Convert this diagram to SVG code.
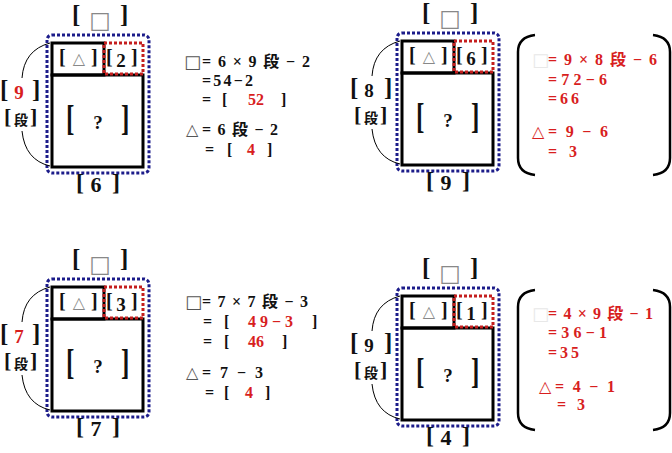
<svg xmlns="http://www.w3.org/2000/svg" width="672" height="453" viewBox="0 0 672 453">
<style>
.t{font-family:"Liberation Serif","Noto Sans CJK JP",serif;font-weight:bold;fill:#111}
.r{fill:#d81e1e}
.sym{font-family:"DejaVu Sans",sans-serif;font-weight:normal;fill:#888}
.dk{fill:#555}
.rs{fill:#d81e1e}
.faint{fill:#e8e8e8}
.kan{font-family:"Noto Sans CJK JP",sans-serif;font-weight:bold;fill:#111}
.blue{fill:none;stroke:#1c1c8a;stroke-width:3;stroke-dasharray:3 2}
.red{fill:none;stroke:#c41e1e;stroke-width:3;stroke-dasharray:3 2}
.box{fill:none;stroke:#000;stroke-width:3}
.arc{fill:none;stroke:#000;stroke-width:1}
.par{fill:none;stroke:#000;stroke-width:2.5}
</style>
<rect width="672" height="453" fill="#fff"/>

<!-- Figure 1 (top-left) -->
<g id="fig1" transform="translate(0,0)">
 <rect class="blue" x="47" y="35" width="102" height="138" rx="5"/>
 <rect class="box" x="52" y="75" width="91" height="92"/>
 <rect class="box" x="52" y="43" width="52" height="32"/>
 <rect class="red" x="104" y="43" width="39" height="31"/>
 <text class="t" x="72" y="23" font-size="25">[</text>
 <text class="sym" x="100" y="28" font-size="23" text-anchor="middle">□</text>
 <text class="t" x="120" y="23" font-size="25">]</text>
 <text class="t" x="59" y="64" font-size="20">[</text>
 <text class="sym" x="79" y="64" font-size="16" text-anchor="middle">△</text>
 <text class="t" x="91" y="64" font-size="20">]</text>
 <text class="t" x="106" y="64" font-size="20">[</text>
 <text class="t" x="121" y="67" font-size="19" text-anchor="middle">2</text>
 <text class="t" x="131" y="64" font-size="20">]</text>
 <text class="t" transform="translate(66,130) scale(0.7,1)" font-size="36">[</text>
 <text class="t" x="98" y="129" font-size="19" text-anchor="middle">?</text>
 <text class="t" transform="translate(121,130) scale(0.7,1)" font-size="36">]</text>
 <text class="t" x="76" y="190" font-size="24">[</text>
 <text class="t" x="96" y="192" font-size="22" text-anchor="middle">6</text>
 <text class="t" x="112" y="190" font-size="24">]</text>
 <text class="t" x="0" y="98" font-size="25">[</text>
 <text class="t r" x="19" y="99" font-size="19" text-anchor="middle">9</text>
 <text class="t" x="32" y="98" font-size="25">]</text>
 <text class="t" x="4" y="124" font-size="22">[</text>
 <text class="kan" x="21" y="125" font-size="14" text-anchor="middle">段</text>
 <text class="t" x="30" y="124" font-size="22">]</text>
 <path class="arc" d="M50,43 Q24,50 22,78"/>
 <path class="arc" d="M22,131 Q25,160 50,166"/>
</g>

<!-- Figure 2 (top-right) -->
<g id="fig2" transform="translate(350,-2)">
 <rect class="blue" x="47" y="35" width="102" height="138" rx="5"/>
 <rect class="box" x="52" y="75" width="91" height="92"/>
 <rect class="box" x="52" y="43" width="52" height="32"/>
 <rect class="red" x="104" y="43" width="39" height="31"/>
 <text class="t" x="72" y="23" font-size="25">[</text>
 <text class="sym" x="100" y="28" font-size="23" text-anchor="middle">□</text>
 <text class="t" x="120" y="23" font-size="25">]</text>
 <text class="t" x="59" y="64" font-size="20">[</text>
 <text class="sym" x="79" y="64" font-size="16" text-anchor="middle">△</text>
 <text class="t" x="91" y="64" font-size="20">]</text>
 <text class="t" x="106" y="64" font-size="20">[</text>
 <text class="t" x="121" y="67" font-size="19" text-anchor="middle">6</text>
 <text class="t" x="131" y="64" font-size="20">]</text>
 <text class="t" transform="translate(66,130) scale(0.7,1)" font-size="36">[</text>
 <text class="t" x="98" y="129" font-size="19" text-anchor="middle">?</text>
 <text class="t" transform="translate(121,130) scale(0.7,1)" font-size="36">]</text>
 <text class="t" x="76" y="190" font-size="24">[</text>
 <text class="t" x="96" y="192" font-size="22" text-anchor="middle">9</text>
 <text class="t" x="112" y="190" font-size="24">]</text>
 <text class="t" x="0" y="98" font-size="25">[</text>
 <text class="t" x="19" y="99" font-size="19" text-anchor="middle">8</text>
 <text class="t" x="34" y="98" font-size="25">]</text>
 <text class="t" x="4" y="124" font-size="22">[</text>
 <text class="kan" x="21" y="125" font-size="14" text-anchor="middle">段</text>
 <text class="t" x="30" y="124" font-size="22">]</text>
 <path class="arc" d="M50,43 Q24,50 22,78"/>
 <path class="arc" d="M22,131 Q25,160 50,166"/>
</g>

<!-- Figure 3 (bottom-left) -->
<g id="fig3" transform="translate(0,244)">
 <rect class="blue" x="47" y="35" width="102" height="138" rx="5"/>
 <rect class="box" x="52" y="75" width="91" height="92"/>
 <rect class="box" x="52" y="43" width="52" height="32"/>
 <rect class="red" x="104" y="43" width="39" height="31"/>
 <text class="t" x="72" y="23" font-size="25">[</text>
 <text class="sym" x="100" y="28" font-size="23" text-anchor="middle">□</text>
 <text class="t" x="120" y="23" font-size="25">]</text>
 <text class="t" x="59" y="64" font-size="20">[</text>
 <text class="sym" x="79" y="64" font-size="16" text-anchor="middle">△</text>
 <text class="t" x="91" y="64" font-size="20">]</text>
 <text class="t" x="106" y="64" font-size="20">[</text>
 <text class="t" x="121" y="67" font-size="19" text-anchor="middle">3</text>
 <text class="t" x="131" y="64" font-size="20">]</text>
 <text class="t" transform="translate(66,130) scale(0.7,1)" font-size="36">[</text>
 <text class="t" x="98" y="129" font-size="19" text-anchor="middle">?</text>
 <text class="t" transform="translate(121,130) scale(0.7,1)" font-size="36">]</text>
 <text class="t" x="76" y="190" font-size="24">[</text>
 <text class="t" x="96" y="192" font-size="22" text-anchor="middle">7</text>
 <text class="t" x="112" y="190" font-size="24">]</text>
 <text class="t" x="0" y="98" font-size="25">[</text>
 <text class="t r" x="19" y="99" font-size="19" text-anchor="middle">7</text>
 <text class="t" x="32" y="98" font-size="25">]</text>
 <text class="t" x="4" y="124" font-size="22">[</text>
 <text class="kan" x="21" y="125" font-size="14" text-anchor="middle">段</text>
 <text class="t" x="30" y="124" font-size="22">]</text>
 <path class="arc" d="M50,43 Q24,50 22,78"/>
 <path class="arc" d="M22,131 Q25,160 50,166"/>
</g>

<!-- Figure 4 (bottom-right) -->
<g id="fig4" transform="translate(350,253)">
 <rect class="blue" x="47" y="35" width="102" height="138" rx="5"/>
 <rect class="box" x="52" y="75" width="91" height="92"/>
 <rect class="box" x="52" y="43" width="52" height="32"/>
 <rect class="red" x="104" y="43" width="39" height="31"/>
 <text class="t" x="72" y="23" font-size="25">[</text>
 <text class="sym" x="100" y="28" font-size="23" text-anchor="middle">□</text>
 <text class="t" x="120" y="23" font-size="25">]</text>
 <text class="t" x="59" y="64" font-size="20">[</text>
 <text class="sym" x="79" y="64" font-size="16" text-anchor="middle">△</text>
 <text class="t" x="91" y="64" font-size="20">]</text>
 <text class="t" x="106" y="64" font-size="20">[</text>
 <text class="t" x="121" y="67" font-size="19" text-anchor="middle">1</text>
 <text class="t" x="131" y="64" font-size="20">]</text>
 <text class="t" transform="translate(66,130) scale(0.7,1)" font-size="36">[</text>
 <text class="t" x="98" y="129" font-size="19" text-anchor="middle">?</text>
 <text class="t" transform="translate(121,130) scale(0.7,1)" font-size="36">]</text>
 <text class="t" x="76" y="190" font-size="24">[</text>
 <text class="t" x="96" y="192" font-size="22" text-anchor="middle">4</text>
 <text class="t" x="112" y="190" font-size="24">]</text>
 <text class="t" x="0" y="98" font-size="25">[</text>
 <text class="t" x="19" y="99" font-size="19" text-anchor="middle">9</text>
 <text class="t" x="34" y="98" font-size="25">]</text>
 <text class="t" x="4" y="124" font-size="22">[</text>
 <text class="kan" x="21" y="125" font-size="14" text-anchor="middle">段</text>
 <text class="t" x="30" y="124" font-size="22">]</text>
 <path class="arc" d="M50,43 Q24,50 22,78"/>
 <path class="arc" d="M22,131 Q25,160 50,166"/>
</g>

<!-- Calculation 1 -->
<g id="calc1">
 <text class="sym dk" x="184" y="68" font-size="18">□</text>
 <text class="t" x="202" y="67" font-size="16" textLength="108" lengthAdjust="spacing">=6×9段−2</text>
 <text class="t" x="202" y="86" font-size="16" textLength="51" lengthAdjust="spacing">=54−2</text>
 <text class="t" x="202" y="105" font-size="16">=</text>
 <text class="t" x="222" y="105" font-size="16">[</text>
 <text class="t r" x="248" y="105" font-size="16">52</text>
 <text class="t" x="281" y="105" font-size="16">]</text>
 <text class="sym dk" x="186" y="135" font-size="16">△</text>
 <text class="t" x="202" y="135" font-size="16" textLength="76" lengthAdjust="spacing">=6段−2</text>
 <text class="t" x="205" y="155" font-size="16">=</text>
 <text class="t" x="227" y="155" font-size="16">[</text>
 <text class="t r" x="247" y="155" font-size="16">4</text>
 <text class="t" x="267" y="155" font-size="16">]</text>
</g>

<!-- Calculation 2 -->
<g id="calc2">
 <path class="par" d="M535,35 Q518,37 518,52 L518,158 Q518,173 535,175"/>
 <path class="par" d="M653,35 Q670,37 670,52 L670,158 Q670,173 653,175"/>
 <text class="sym faint" x="532" y="66" font-size="18">□</text>
 <text class="t r" x="548" y="65" font-size="16" textLength="109" lengthAdjust="spacing">=9×8段−6</text>
 <text class="t r" x="548" y="85" font-size="16" textLength="59" lengthAdjust="spacing">=72−6</text>
 <text class="t r" x="548" y="104" font-size="16" textLength="31" lengthAdjust="spacing">=66</text>
 <text class="sym rs" x="532" y="137" font-size="16">△</text>
 <text class="t r" x="548" y="137" font-size="16" textLength="60" lengthAdjust="spacing">=9−6</text>
 <text class="t r" x="548" y="157" font-size="16" textLength="29" lengthAdjust="spacing">=3</text>
</g>

<!-- Calculation 3 -->
<g id="calc3">
 <text class="sym dk" x="185" y="308" font-size="18">□</text>
 <text class="t" x="202" y="307" font-size="16" textLength="106" lengthAdjust="spacing">=7×7段−3</text>
 <text class="t" x="203" y="327" font-size="16">=</text>
 <text class="t" x="224" y="327" font-size="16">[</text>
 <text class="t r" x="248" y="327" font-size="16" textLength="45" lengthAdjust="spacing">49−3</text>
 <text class="t" x="312" y="327" font-size="16">]</text>
 <text class="t" x="203" y="347" font-size="16">=</text>
 <text class="t" x="224" y="347" font-size="16">[</text>
 <text class="t r" x="248" y="347" font-size="16">46</text>
 <text class="t" x="282" y="347" font-size="16">]</text>
 <text class="sym dk" x="186" y="378" font-size="16">△</text>
 <text class="t" x="202" y="378" font-size="16" textLength="61" lengthAdjust="spacing">=7−3</text>
 <text class="t" x="205" y="398" font-size="16">=</text>
 <text class="t" x="224" y="398" font-size="16">[</text>
 <text class="t r" x="245" y="398" font-size="16">4</text>
 <text class="t" x="265" y="398" font-size="16">]</text>
</g>

<!-- Calculation 4 -->
<g id="calc4">
 <path class="par" d="M535,290 Q518,292 518,307 L518,413 Q518,428 535,430"/>
 <path class="par" d="M653,290 Q670,292 670,307 L670,413 Q670,428 653,430"/>
 <text class="sym faint" x="532" y="320" font-size="18">□</text>
 <text class="t r" x="548" y="319" font-size="16" textLength="105" lengthAdjust="spacing">=4×9段−1</text>
 <text class="t r" x="548" y="338" font-size="16" textLength="59" lengthAdjust="spacing">=36−1</text>
 <text class="t r" x="548" y="358" font-size="16" textLength="31" lengthAdjust="spacing">=35</text>
 <text class="sym rs" x="539" y="392" font-size="16">△</text>
 <text class="t r" x="555" y="392" font-size="16" textLength="60" lengthAdjust="spacing">=4−1</text>
 <text class="t r" x="557" y="410" font-size="16" textLength="28" lengthAdjust="spacing">=3</text>
</g>
</svg>
